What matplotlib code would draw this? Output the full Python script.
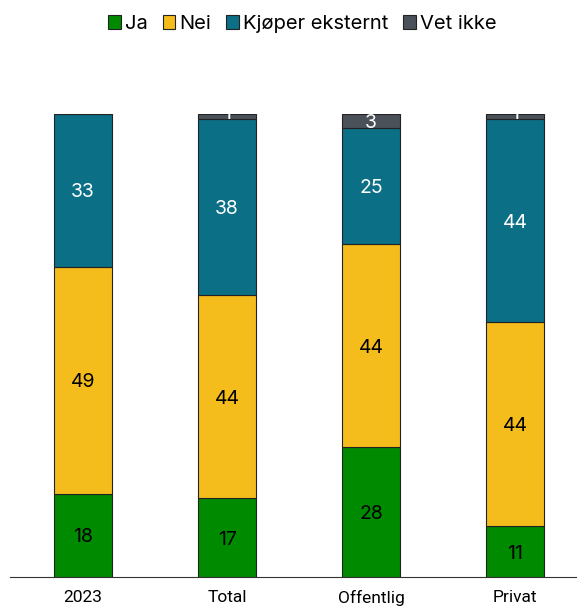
import matplotlib.pyplot as plt
import numpy as np

plt.rcParams['font.family'] = ['Inter', 'DejaVu Sans']

categories = ["2023", "Total", "Offentlig", "Privat"]
series = ["Ja", "Nei", "Kjøper eksternt", "Vet ikke"]
ja = [18, 17, 28, 11]
nei = [49, 44, 44, 44]
kjoper = [33, 38, 25, 44]
vet_ikke = [0, 1, 3, 1]

colors = ["#008a00", "#f5bd1c", "#0b6f86", "#4b5159"]
text_colors = ["black", "black", "white", "white"]

fig = plt.figure(figsize=(5.77, 6.07), dpi=100)
ax = fig.add_axes([10 / 577, 30 / 607, 567 / 577, 463 / 607])

x = np.arange(len(categories))
bottom = np.zeros(len(categories))
for name, vals, col, tcol in zip(series, [ja, nei, kjoper, vet_ikke], colors, text_colors):
    vals = np.array(vals, dtype=float)
    bars = ax.bar(x, vals, 0.4, bottom=bottom, color=col, edgecolor="#222222",
                  linewidth=0.8, label=name)
    for b, v, bt in zip(bars, vals, bottom):
        if v > 0:
            # baseline shifted down by half the cap height so digits sit centred
            t = ax.annotate(f"{v:.0f}", (b.get_x() + b.get_width() / 2, bt + v / 2),
                            xytext=(0, -5.1), textcoords="offset points",
                            ha="center", va="baseline", color=tcol, fontsize=14)
            t.set_clip_path(b)
    bottom += vals

ax.set_xlim(-0.507, 3.43)
ax.set_ylim(0, 100)
ax.set_xticks(x)
ax.set_xticklabels(categories, fontsize=12.5, family=["Roboto", "DejaVu Sans"])
ax.tick_params(axis="x", length=0, pad=9)
ax.set_yticks([])
for s in ["top", "right", "left"]:
    ax.spines[s].set_visible(False)
ax.spines["bottom"].set_color("#333333")

fig.legend(loc="upper center", bbox_to_anchor=(0.524, 1.005), ncol=4, frameon=False,
           fontsize=14.5, handlelength=0.62, handleheight=0.62, handletextpad=0.2,
           columnspacing=0.75)

fig.savefig("out.png", dpi=100)
